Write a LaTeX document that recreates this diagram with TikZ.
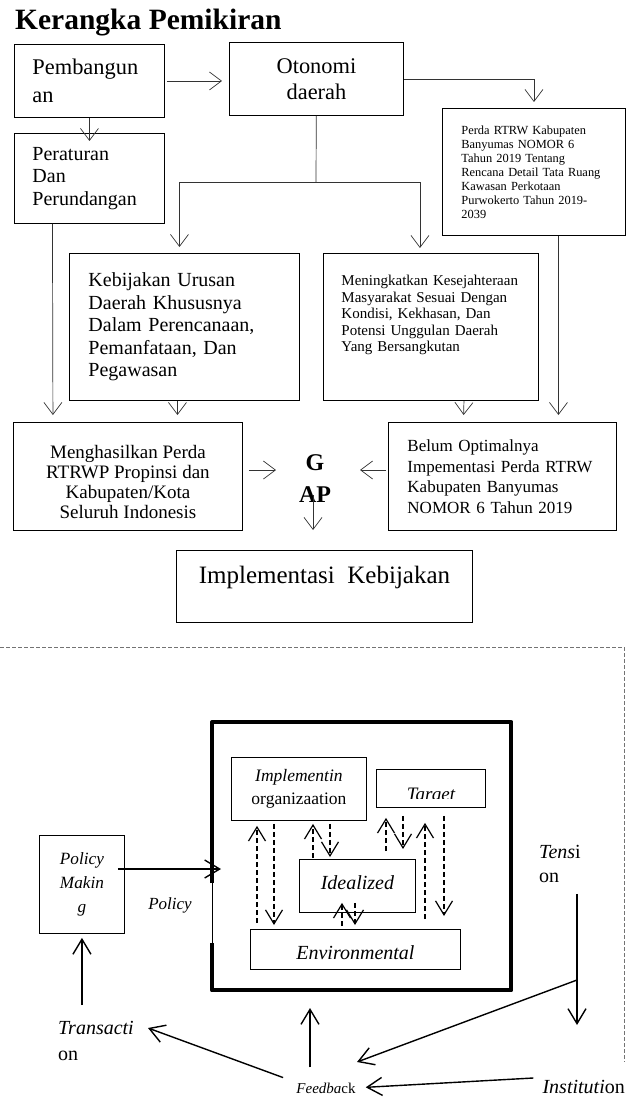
\documentclass[tikz,border=0pt]{standalone}
\usepackage{fontspec}
\setmainfont{Liberation Serif}
\usetikzlibrary{arrows.meta}

\newcommand{\fsz}[2]{\fontsize{#1}{#2}\selectfont}

\tikzset{
  box/.style={draw, line width=0.9pt, inner ysep=1pt},
  lbox/.style={box, align=left, anchor=north west},
  arr/.style={draw=black!80, line width=0.7pt, -{Straight Barb[length=12pt,width=18pt]}},
  garis/.style={draw=black!80, line width=0.7pt},
  barr/.style={line width=1.4pt, -{Straight Barb[length=15pt,width=18pt]}},
  darr/.style={line width=1.2pt, dash pattern=on 5pt off 3pt, -{Straight Barb[length=14pt,width=17pt]}},
  tebal/.style={line width=4pt, line join=round},
  bingkai/.style={draw=black!55, line width=0.8pt, dash pattern=on 4pt off 2pt},
  teks/.style={inner sep=0pt},
}

\begin{document}
\begin{tikzpicture}[x=1pt, y=-1pt]
% \draw [help lines, step=50] (0,0) grid (627,1099);
\useasboundingbox (0,0) rectangle (627,1099);

\node[anchor=base west, teks, font=\fsz{29.5}{32}\bfseries] (judul) at (15,30) {Kerangka Pemikiran};

% bagian atas
\node[lbox, minimum width=150pt, minimum height=73pt, text width=114pt, inner xsep=18pt, font=\fsz{22.4}{28}] (pembangun) at (14,44) {Pembangun\\an};
\node[box, align=center, anchor=north west, minimum width=174pt, minimum height=73pt, font=\fsz{22.4}{26}] (otonomi) at (229,42) {Otonomi\\daerah};
\node[lbox, minimum width=183pt, minimum height=127pt, text width=145pt, inner xsep=19pt, font=\fsz{12.4}{14}] (perda) at (442,108) {Perda RTRW Kabupaten\\Banyumas NOMOR 6\\Tahun 2019 Tentang\\Rencana Detail Tata Ruang\\Kawasan Perkotaan\\Purwokerto Tahun 2019-\\2039};
\node[lbox, minimum width=150pt, minimum height=90pt, text width=114pt, inner xsep=18pt, font=\fsz{20}{22.5}] (peraturan) at (14,133) {Peraturan\\Dan\\Perundangan};
\node[lbox, minimum width=230pt, minimum height=147pt, text width=192pt, inner xsep=19pt, font=\fsz{20}{22.5}] (kebijakan) at (69,253) {Kebijakan Urusan\\Daerah Khususnya\\Dalam Perencanaan,\\Pemanfataan, Dan\\Pegawasan};
\node[lbox, minimum width=215pt, minimum height=147pt, text width=179pt, inner xsep=18pt, font=\fsz{15}{16.5}] (meningkatkan) at (323,253) {Meningkatkan Kesejahteraan\\Masyarakat Sesuai Dengan\\Kondisi, Kekhasan, Dan\\Potensi Unggulan Daerah\\Yang Bersangkutan\rule[-27pt]{0pt}{0pt}};
\node[box, align=center, anchor=north west, minimum width=229pt, minimum height=108pt, font=\fsz{19}{20}] (menghasilkan) at (13,422) {\rule{0pt}{24pt}Menghasilkan Perda\\RTRWP Propinsi dan\\Kabupaten/Kota\\Seluruh Indonesis};
\node[lbox, minimum width=228pt, minimum height=108pt, text width=190pt, inner xsep=19pt, font=\fsz{17}{20.5}] (belum) at (388,422) {Belum Optimalnya\\Impementasi Perda RTRW\\Kabupaten Banyumas\\NOMOR 6 Tahun 2019};
\node[align=center, teks, font=\fsz{24}{32}\bfseries] (gap) at (315,479) {G\\AP};
\node[box, anchor=north west, minimum width=296pt, minimum height=72pt, text depth=23pt, font=\fsz{25}{30}] (implementasi) at (176,550) {Implementasi\ \ Kebijakan};

\coordinate (cabang) at (316,182);
\coordinate (gapkiri) at (276,470);
\coordinate (gapkanan) at (360,470);
\coordinate (gapbawah) at (313,530);

\draw[arr, shorten <=2pt, shorten >=7pt] (pembangun.east) -- (pembangun.east -| otonomi.west);
\draw[arr, shorten >=-8pt] (pembangun) -- (peraturan);
\draw[arr, shorten >=6pt] (otonomi.east) -| (perda.north);
\draw[garis] (otonomi) -- (cabang);
\draw[arr, shorten >=6pt] (cabang) -| ([xshift=-5pt]kebijakan.north);
\draw[arr, shorten >=5pt] (cabang) -| ([xshift=-11pt]meningkatkan.north);
\draw[arr, shorten >=7pt] ([xshift=-37pt]peraturan.south) -- ([xshift=-75pt]menghasilkan.north);
\draw[arr, shorten >=7pt] ([xshift=-7pt]kebijakan.south) -- ([xshift=49.5pt]menghasilkan.north);
\draw[arr, shorten >=7pt] ([xshift=33pt]meningkatkan.south) -- ([xshift=-39pt]belum.north);
\draw[arr, shorten >=7pt] ([xshift=24.5pt]perda.south) -- ([xshift=56pt]belum.north);
\draw[arr, shorten <=6pt] (menghasilkan.east |- gapkiri) -- (gapkiri);
\draw[arr, shorten <=2pt] (belum.west |- gapkanan) -- (gapkanan);
\draw[arr, shorten <=-8pt] (gapbawah |- gap.south) -- (gapbawah);

% bagian bawah
\draw[bingkai] (0,647) -- (624,647) -- (624,1062);

\node[anchor=north west, minimum width=299pt, minimum height=268pt, inner sep=0pt] (sistem) at (212,722) {};
\coordinate (celah1) at (212,883);
\coordinate (celah2) at (212,943);
\draw[tebal] (celah1) -- (sistem.north west) -- (sistem.north east) -- (sistem.south east) -- (sistem.south west) -- (celah2);
\draw[line width=1pt] (celah1) -- (celah2);

\node[box, align=center, anchor=north west, minimum width=135pt, minimum height=63pt, font=\fsz{17.5}{23}] (implementin) at (231,757) {\textit{Implementin}\\organizaation};
\node[box, anchor=north west, minimum width=109pt, minimum height=38pt] (target) at (376,769) {};
\begin{scope}
  \clip (376,760) rectangle (486,798);
  \node[anchor=base, teks, font=\fsz{19}{22}\itshape] (targetteks) at (431,800) {Target};
\end{scope}
\node[box, anchor=north west, minimum width=116pt, minimum height=53pt, text depth=7pt, font=\fsz{20}{24}\itshape] (idealized) at (299,859) {Idealized};
\node[box, anchor=north west, minimum width=210pt, minimum height=40pt, text height=19.7pt, font=\fsz{20}{24}\itshape] (environmental) at (250,929) {Environmental};

\node[box, align=center, anchor=north west, minimum width=85pt, minimum height=98pt, font=\fsz{17.2}{24}\itshape] (policymaking) at (39,835) {Policy\\Makin\\g};
\node[teks, font=\fsz{17}{20}\itshape] (policylabel) at (170,905) {Policy};
\node[teks, anchor=north west, align=left, font=\fsz{20}{26}] (transaction) at (58,1021) {\textit{Transacti}\\on};
\node[teks, anchor=north west, align=left, font=\fsz{20}{24}] (tension) at (539,845) {\textit{Tens}i\\on};
\node[teks, anchor=base east, font=\fsz{20}{24}] (institution) at (625,1093) {\textit{Instituti}on};
\node[teks, anchor=base, font=\fsz{15}{18}] (feedback) at (326,1093) {\textit{Feedba}ck};

\coordinate (policyin) at (221,869);
\coordinate (keTransaksi) at (148,1028);
\coordinate (keSistem) at (310,1008);
\coordinate (tensiBawah) at (577,1025);
\coordinate (tensiCabang) at (577,980);
\coordinate (keFeedback) at (357,1062);

\draw[barr, shorten <=-7pt] (policymaking.east |- policyin) -- (policyin);
\draw[barr, shorten <=16pt, shorten >=4pt] (transaction.north -| policymaking.south) -- (policymaking.south);
\draw[barr, shorten <=14pt] (feedback.north west) -- (keTransaksi);
\draw[barr, shorten <=15pt] (keSistem |- feedback.north) -- (keSistem);
\draw[barr, shorten <=11pt] (tensiBawah |- tension.south) -- (tensiBawah);
\draw[barr] (tensiCabang) -- (keFeedback);
\draw[barr, shorten <=9pt, shorten >=10pt] ([yshift=9pt]institution.west) -- (feedback.east);

% panah putus-putus
\draw[darr, shorten <=6pt, shorten >=5pt] (257,0 |- environmental.north) -- (257,0 |- implementin.south);
\draw[darr, shorten <=3pt, shorten >=4pt] (274,0 |- implementin.south) -- (274,0 |- environmental.north);
\draw[darr, shorten <=1pt, shorten >=3pt] (313,0 |- idealized.north) -- (313,0 |- implementin.south);
\draw[darr, shorten <=3pt, shorten >=2pt] (330,0 |- implementin.south) -- (330,0 |- idealized.north);
\draw[darr, shorten <=3pt, shorten >=-10pt] (342,0 |- environmental.north) -- (342,0 |- idealized.south);
\draw[darr, shorten <=-10pt, shorten >=4pt] (355,0 |- idealized.south) -- (355,0 |- environmental.north);
\draw[darr, shorten <=8pt, shorten >=10pt] (386,0 |- idealized.north) -- (386,0 |- target.south);
\draw[darr, shorten <=8pt, shorten >=10pt] (403,0 |- target.south) -- (403,0 |- idealized.north);
\draw[darr, shorten <=10pt, shorten >=15pt] (425,0 |- environmental.north) -- (425,0 |- target.south);
\draw[darr, shorten <=8pt, shorten >=13pt] (444,0 |- target.south) -- (444,0 |- environmental.north);
\end{tikzpicture}
\end{document}
